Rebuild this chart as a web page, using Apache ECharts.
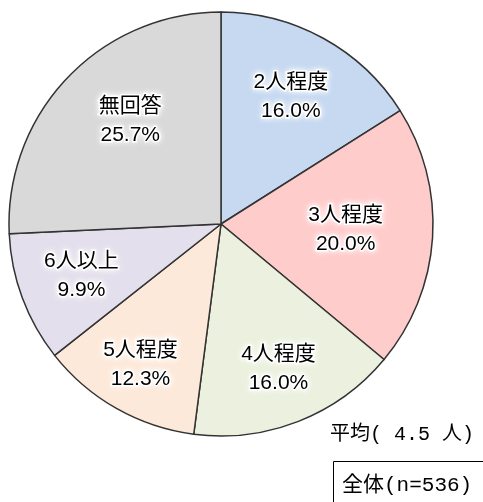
<!DOCTYPE html>
<html>
<head>
<meta charset="utf-8">
<script src="https://cdn.jsdelivr.net/npm/echarts@6/dist/echarts.min.js"></script>
<style>
  html, body { margin: 0; padding: 0; background: #fff; }
  #main { width: 483px; height: 502px; }
</style>
</head>
<body>
<div id="main"></div>
<script>
"use strict";

var categories = ['2人程度', '3人程度', '4人程度', '5人程度', '6人以上', '無回答'];
var shares = [16.0, 20.0, 16.0, 12.3, 9.9, 25.7];
var sliceColors = ['#c6d9f1', '#ffcccc', '#ebf1de', '#fde9d9', '#e4dfec', '#d9d9d9'];
var averageText = '平均( 4.5 人)';
var totalText = '全体(n=536)';

// small label nudges so they sit like the original (layout only)
var labelNudge = [[-2, 3], [-24, -4], [3, 6], [-7, 11], [0, 0], [17, 0]];

var labelFont = '"Liberation Sans", "Noto Sans CJK JP", sans-serif';
var noteFont = '"Liberation Mono", "Noto Sans CJK JP", sans-serif';

var pieData = categories.map(function (name, i) {
    return { name: name, value: shares[i], itemStyle: { color: sliceColors[i] } };
});

var chart = echarts.init(document.getElementById('main'), null, { renderer: 'canvas' });

var option = {
    animation: false,
    backgroundColor: '#ffffff',
    graphic: [
        {
            type: 'text',
            left: 330, top: 425,
            style: { text: averageText, font: '20px ' + noteFont, fill: '#000' }
        },
        {
            type: 'rect',
            shape: { x: 333.5, y: 461.5, width: 160, height: 50 },
            style: { fill: '#fff', stroke: '#000', lineWidth: 1 }
        },
        {
            type: 'text',
            left: 342, top: 475,
            style: { text: totalText, font: '21px ' + noteFont, fill: '#000' }
        }
    ],
    series: [
        {
            // the pie itself
            type: 'pie',
            center: [221, 224],
            radius: [0, 212],
            startAngle: 90,
            clockwise: true,
            silent: true,
            label: { show: false },
            labelLine: { show: false },
            itemStyle: { borderColor: '#333333', borderWidth: 1.5 },
            data: pieData
        },
        {
            // transparent ring only to place the labels further out
            type: 'pie',
            center: [221, 224],
            radius: [80, 212],
            startAngle: 90,
            clockwise: true,
            silent: true,
            itemStyle: { color: 'rgba(0,0,0,0)', borderWidth: 0 },
            label: {
                show: true,
                position: 'inside',
                formatter: function (p) { return p.name + '\n' + p.value.toFixed(1) + '%'; },
                fontFamily: labelFont,
                fontSize: 21,
                lineHeight: 29,
                color: '#000',
                textBorderColor: '#fff',
                textBorderWidth: 3,
                textShadowColor: '#fff',
                textShadowBlur: 6
            },
            labelLayout: function (p) {
                var n = labelNudge[p.dataIndex];
                return { dx: n[0], dy: n[1] };
            },
            labelLine: { show: false },
            data: categories.map(function (name, i) { return { name: name, value: shares[i] }; })
        }
    ]
};

chart.setOption(option);
</script>
</body>
</html>
